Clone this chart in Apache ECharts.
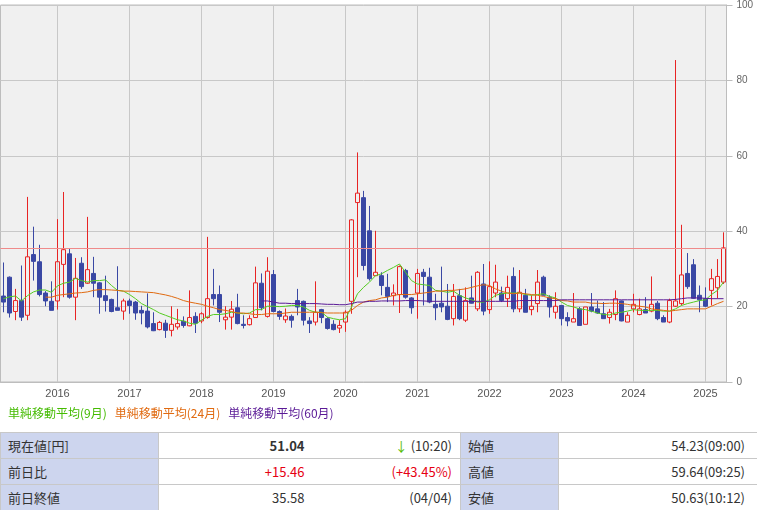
<!DOCTYPE html>
<html>
<head>
<meta charset="utf-8">
<script src="https://cdn.jsdelivr.net/npm/echarts@6/dist/echarts.min.js"></script>
<style>
  html, body { margin:0; padding:0; background:#fff; }
  #wrap { position:relative; width:757px; height:510px; overflow:hidden; }
  #chart { position:absolute; left:0; top:0; width:757px; height:432px; }
  #tbl { position:absolute; left:0; top:432px; width:757px; border-collapse:collapse; table-layout:fixed;
         font-family:"Noto Sans CJK JP","Noto Sans",sans-serif; font-size:13px; color:#333; }
  #tbl td { height:25px; border-top:1px solid #c8c8c8; border-bottom:1px solid #c8c8c8; padding:0; white-space:nowrap; }
  #tbl td.lab { background:#cdd5ee; padding-left:7px; border-left:1px solid #c8c8c8; border-right:1px solid #c8c8c8; }
  #tbl td.v1 { text-align:right; padding-right:6px; }
  #tbl td.v2 { text-align:right; padding-right:8px; }
  #tbl td.v3 { text-align:right; padding-right:12px; border-right:1px solid #c8c8c8; }
  .red { color:#e60012; }
  .grn { color:#55bb00; }
</style>
</head>
<body>
<div id="wrap">
  <div id="chart"></div>
  <table id="tbl"></table>
</div>
<script>
// ---- data ----
const startYear = 2015, startMonth = 4, monthCount = 121;   // 2015-04 .. 2025-04
const categories = [];
for (let k = 0; k < monthCount; k++) {
  const m = startMonth - 1 + k;
  const y = startYear + Math.floor(m / 12);
  const mm = (m % 12) + 1;
  categories.push(y + '-' + (mm < 10 ? '0' + mm : '' + mm));
}
// [open, close, low, high]
const ohlc = [
 [22.8,21.2,18.5,31.7],[27.8,18.3,17.1,28.0],[18.7,21.6,16.4,24.7],[21.6,17.2,16.2,30.9],[17.7,33.2,16.4,49.1],
 [33.8,32.0,26.9,41.2],[31.9,23.2,22.7,36.4],[23.6,21.5,20.1,24.1],[21.4,19.0,19.0,26.7],[21.5,31.9,19.2,43.2],
 [31.2,35.1,22.5,50.4],[34.0,22.5,22.1,35.4],[22.5,27.5,16.4,32.9],[31.5,25.3,24.7,33.1],[26.2,29.8,26.0,43.8],
 [28.8,26.2,22.5,33.2],[26.3,22.5,18.1,26.5],[22.9,21.6,18.7,28.2],[21.9,18.7,18.5,22.1],[19.7,19.0,19.0,30.7],
 [18.8,21.5,16.5,22.1],[21.5,20.3,18.1,22.1],[21.2,18.3,16.5,21.5],[19.0,18.3,15.3,20.2],[18.8,14.6,14.2,23.5],
 [15.5,13.6,13.5,18.5],[13.9,15.8,13.7,16.2],[15.6,13.7,11.7,16.5],[13.7,15.3,12.1,20.1],[14.6,15.5,13.9,19.4],
 [16.1,15.0,14.4,17.4],[14.9,17.1,14.8,24.3],[17.4,15.6,13.0,18.5],[16.2,18.1,15.6,18.5],[17.1,22.1,16.8,38.5],
 [23.2,22.1,20.3,30.0],[23.2,18.5,15.9,25.6],[16.5,17.2,13.9,20.1],[17.2,19.3,13.9,21.5],[19.7,15.5,15.3,23.4],
 [15.3,15.0,14.2,17.7],[15.2,16.8,15.0,17.7],[17.1,26.3,17.1,30.6],[26.2,19.7,19.0,28.8],[17.4,29.4,17.1,33.1],
 [28.5,18.7,18.5,29.7],[18.7,17.4,16.5,19.0],[16.5,17.5,15.7,19.5],[17.4,16.4,14.4,17.9],[21.6,19.9,17.7,24.7],
 [21.4,16.4,15.0,21.6],[16.2,15.5,13.0,17.2],[15.9,18.5,15.0,26.7],[19.2,17.1,15.6,19.4],[16.8,14.2,13.9,17.2],
 [15.3,13.9,13.7,16.4],[14.3,15.0,13.0,16.4],[15.9,18.5,13.3,19.0],[21.4,43.0,18.1,43.2],[47.6,50.1,27.8,60.9],
 [48.9,30.9,29.6,50.7],[40.1,27.4,26.9,46.7],[28.2,29.1,28.2,40.1],[28.2,25.6,23.0,29.1],[25.1,22.7,21.2,28.7],
 [22.9,23.6,20.3,25.9],[23.2,30.6,18.3,30.9],[29.6,22.5,22.1,30.0],[22.3,19.7,18.1,22.5],[23.6,28.8,16.8,30.0],
 [29.1,28.0,20.3,30.0],[27.8,21.2,20.9,30.3],[20.6,19.7,16.4,23.4],[20.9,19.9,18.5,30.6],[20.1,16.6,16.4,26.0],
 [16.8,22.7,15.0,26.0],[22.9,16.8,16.4,24.7],[16.4,21.6,15.9,25.1],[22.3,20.9,20.8,28.2],[19.4,29.1,18.8,29.4],
 [26.0,18.8,17.7,31.3],[19.2,25.3,18.1,32.0],[23.6,26.5,22.5,31.1],[23.6,21.6,21.2,25.3],[22.1,25.1,19.9,28.2],
 [28.0,19.4,18.5,30.4],[19.4,23.8,18.5,29.7],[23.0,18.5,18.5,24.7],[19.2,20.1,17.7,23.0],[20.8,26.5,18.5,29.7],
 [27.8,23.0,23.0,28.2],[22.5,19.9,17.1,23.0],[18.5,20.1,16.8,23.8],[20.3,16.8,15.0,20.3],[17.1,16.2,14.8,18.5],
 [15.9,16.8,15.9,23.6],[19.4,15.0,15.0,19.9],[15.3,19.9,15.3,19.9],[19.9,18.8,18.5,23.6],[19.4,18.3,18.1,21.6],
 [18.1,16.8,16.8,21.2],[17.1,18.5,15.5,19.4],[17.9,22.1,16.4,24.3],[21.5,16.2,16.1,21.6],[15.9,17.7,15.9,18.5],
 [19.4,20.6,18.5,23.4],[17.9,19.4,17.7,22.1],[19.2,18.3,18.3,22.5],[18.8,20.6,18.5,28.0],[20.9,16.8,16.4,21.5],
 [17.1,15.9,15.9,17.7],[15.9,21.6,15.6,22.1],[20.1,21.5,19.9,85.4],[20.8,28.4,20.3,41.7],[28.8,25.3,24.7,34.2],
 [31.1,22.2,22.1,32.6],[23.0,21.8,18.5,25.6],[22.1,20.1,19.9,25.1],[24.3,27.4,20.3,30.0],[25.0,28.0,22.1,32.6],
 [26.5,35.58,26.0,39.7]
];
const ma9 = [
 22.1,22.6,22.8,21.5,22.9,23.9,24.4,24.4,23.8,25.5,26.2,26.5,27.5,26.9,26.5,26.9,26.9,27.1,25.6,24.3,
 24.1,23.2,22.1,20.8,20.0,19.2,18.3,17.7,17.1,16.5,16.2,15.6,15.3,16.4,17.4,17.9,17.9,18.1,18.5,18.3,
 18.1,18.3,19.2,19.2,20.1,20.1,20.0,20.1,20.3,20.3,19.9,19.0,18.5,18.5,17.2,16.8,16.5,16.8,19.9,23.4,
 25.1,26.5,28.2,28.7,29.6,30.4,31.3,29.1,26.9,26.0,25.8,25.6,24.3,24.1,23.8,24.1,23.0,22.3,21.8,21.2,
 21.2,21.8,23.0,23.4,23.6,23.6,23.6,23.2,23.0,23.2,23.4,22.7,22.3,21.2,20.3,19.9,19.4,19.2,18.8,18.3,
 17.9,17.8,18.3,18.5,18.8,19.2,19.0,19.0,19.0,19.0,18.8,18.8,19.4,20.3,20.8,21.2,21.6,21.8,23.2,24.3,
 26.5
];
const ma24 = [
 null,null,null,null,null,null,null,22.5,22.5,23.0,23.2,23.4,23.6,23.7,23.9,24.3,24.5,24.5,24.4,24.3,
 24.1,24.1,24.0,23.9,23.8,23.7,23.4,23.1,22.7,22.2,21.6,21.2,20.9,20.6,20.1,19.7,19.2,19.0,18.7,18.3,
 18.3,18.1,17.9,17.9,18.1,18.1,18.1,18.3,18.5,18.5,18.5,18.5,18.5,18.4,18.3,18.3,18.3,18.3,19.0,20.3,
 21.2,21.6,21.8,22.3,22.5,23.0,23.2,23.2,23.2,23.4,23.6,23.8,24.1,24.1,24.3,24.3,24.5,24.7,25.1,25.5,
 25.8,25.6,24.7,24.1,23.6,23.4,23.6,23.4,23.2,23.0,22.7,22.3,22.1,21.6,21.5,21.2,21.2,21.2,20.9,20.9,
 20.8,20.9,20.9,20.8,20.6,20.3,20.1,19.9,19.4,19.2,19.0,18.8,19.0,19.2,19.4,19.4,19.4,19.4,20.1,20.8,
 21.4
];
const ma60 = [
 null,null,null,null,null,null,null,null,null,null,null,null,null,null,null,null,null,null,null,null,
 null,null,null,null,null,null,null,null,null,null,null,null,null,null,null,null,null,null,null,null,
 null,null,null,21.5,21.5,21.2,20.9,20.9,20.8,20.8,20.8,20.8,20.8,20.7,20.6,20.6,20.5,20.5,20.8,21.2,
 21.2,21.4,21.4,21.5,21.5,21.5,21.5,21.6,21.6,21.6,21.5,21.4,21.4,21.4,21.4,21.4,21.4,21.4,21.4,21.4,
 21.4,21.4,21.4,21.4,21.4,21.4,21.6,21.6,21.6,21.6,21.6,21.6,21.6,21.8,21.8,21.8,21.8,21.8,21.8,21.8,
 21.8,21.8,21.8,21.8,21.8,21.8,21.8,21.8,21.8,21.8,21.8,21.8,21.9,22.1,22.3,22.3,22.3,22.2,22.1,22.1,
 22.1
];
const prevClose = 35.58;
const seriesNames = ['単純移動平均(9月)', '単純移動平均(24月)', '単純移動平均(60月)'];
const seriesColors = ['#55cc22', '#e06a10', '#5a1a96'];
const legendColors = ['#44bb00', '#e06a10', '#5a1a96'];

// quote table
const quoteLabelsL = ['現在値[円]', '前日比', '前日終値'];
const quoteValues1 = ['51.04', '+15.46', '35.58'];
const quoteValues2 = ['(10:20)', '(+43.45%)', '(04/04)'];
const quoteLabelsR = ['始値', '高値', '安値'];
const quoteValuesR = ['54.23(09:00)', '59.64(09:25)', '50.63(10:12)'];

// ---- table ----
(function buildTable() {
  const t = document.getElementById('tbl');
  let html = '<colgroup><col style="width:158px"><col style="width:152px"><col style="width:150px"><col style="width:98px"><col style="width:199px"></colgroup>';
  for (let r = 0; r < 3; r++) {
    let v1 = quoteValues1[r], v2 = quoteValues2[r];
    if (r === 0) { v1 = '<b>' + v1 + '</b>'; v2 = '<span class="grn">&#8595;</span> ' + v2; }
    if (r === 1) { v1 = '<span class="red">' + v1 + '</span>'; v2 = '<span class="red">' + v2 + '</span>'; }
    html += '<tr><td class="lab">' + quoteLabelsL[r] + '</td><td class="v1">' + v1 + '</td><td class="v2">' + v2 +
            '</td><td class="lab">' + quoteLabelsR[r] + '</td><td class="v3">' + quoteValuesR[r] + '</td></tr>';
  }
  t.innerHTML = html;
})();

// ---- chart ----
const chart = echarts.init(document.getElementById('chart'));
const isJan = (i, v) => String(v).slice(5) === '01';
const lineSeries = [ma9, ma24, ma60].map((d, k) => ({
  name: seriesNames[k], type: 'line', data: d, showSymbol: false, symbol: 'none',
  connectNulls: false, silent: true,
  lineStyle: { color: seriesColors[k], width: 1 }, itemStyle: { color: seriesColors[k] }, z: 3
}));
chart.setOption({
  animation: false,
  grid: { left: 0.5, top: 3, width: 726, height: 379, show: true, backgroundColor: '#f0f0f0',
          borderColor: '#bdbdbd', borderWidth: 1 },
  legend: {
    left: 3, top: 407, icon: 'none', itemWidth: 0, itemHeight: 10, itemGap: 3, padding: 0,
    selectedMode: false,
    textStyle: { fontSize: 12, fontFamily: '"Noto Sans CJK JP", sans-serif' },
    data: seriesNames.map((n, k) => ({ name: n, textStyle: { color: legendColors[k] } }))
  },
  xAxis: {
    type: 'category', data: categories, boundaryGap: true,
    axisLine: { show: true, lineStyle: { color: '#bdbdbd' } },
    axisTick: { show: false },
    axisLabel: { interval: isJan, formatter: v => v.slice(0, 4), color: '#555', fontSize: 11,
                 margin: 6, fontFamily: '"Liberation Sans", Arial, sans-serif' },
    splitLine: { show: true, interval: isJan, alignWithLabel: true, lineStyle: { color: '#c8c8c8', width: 1 } }
  },
  yAxis: {
    type: 'value', position: 'right', min: 0, max: 100, interval: 20,
    axisLine: { show: true, lineStyle: { color: '#bdbdbd' } },
    axisTick: { show: true, length: 6, lineStyle: { color: '#bdbdbd' } },
    axisLabel: { color: '#666', fontSize: 10, margin: 10, fontFamily: '"Liberation Sans", Arial, sans-serif' },
    splitLine: { show: true, lineStyle: { color: '#c8c8c8', width: 1 } }
  },
  series: [{
    type: 'candlestick', data: ohlc, barWidth: 4, silent: true, z: 2,
    itemStyle: { color: 'rgba(255,255,255,0)', color0: '#3a48a4', borderColor: '#e82424',
                 borderColor0: '#3a48a4', borderWidth: 1 },
    markLine: { silent: true, symbol: 'none', label: { show: false },
                lineStyle: { color: '#ef8a8a', type: 'solid', width: 1 },
                data: [{ yAxis: prevClose }] }
  }].concat(lineSeries)
});
</script>
</body>
</html>
